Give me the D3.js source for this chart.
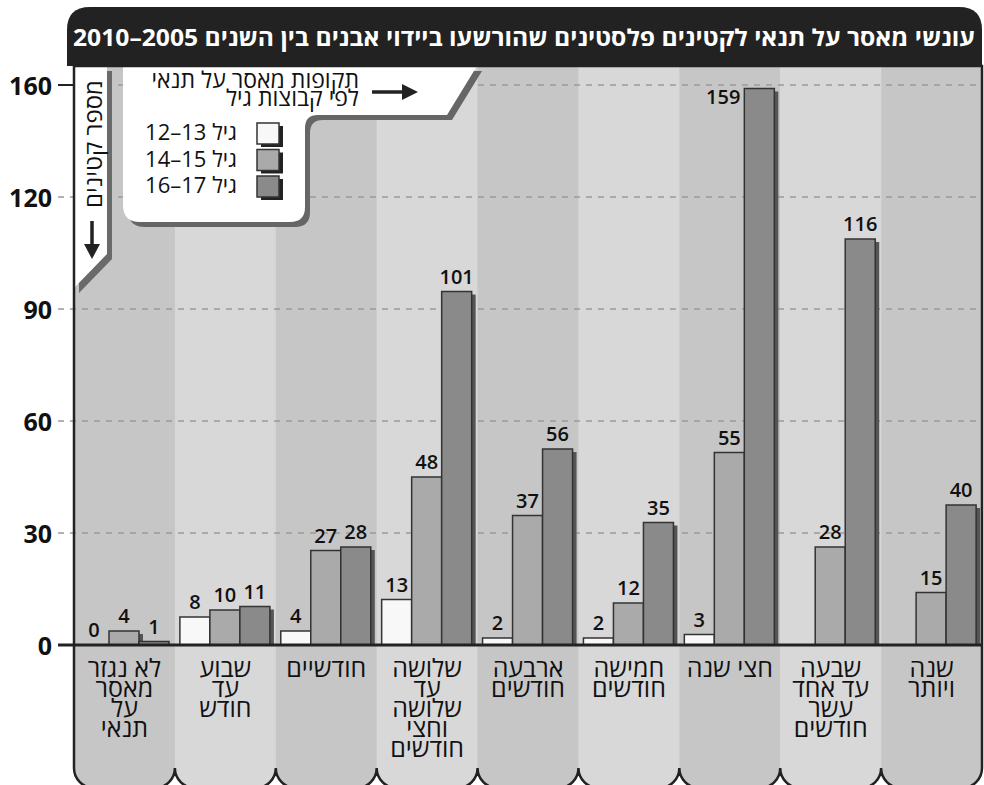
<!DOCTYPE html>
<html lang="he">
<head>
<meta charset="utf-8">
<script src="https://cdn.jsdelivr.net/npm/d3@7"></script>
<style>
    body { margin: 0; background: #fff; }
    svg { display: block; font-family: "Open Sans", "Noto Sans", "DejaVu Sans", sans-serif; }
</style>
</head>
<body>
<svg id="chart" width="984" height="785"></svg>
<script>
const title = "עונשי מאסר על תנאי לקטינים פלסטינים שהורשעו ביידוי אבנים בין השנים 2005–2010";
const yAxisTitle = "מספר קטינים";
const legendTitle = ["תקופות מאסר על תנאי", "לפי קבוצות גיל"];

const categories = [
    ["לא נגזר", "מאסר", "על", "תנאי"],
    ["שבוע", "עד", "חודש"],
    ["חודשיים"],
    ["שלושה", "עד", "שלושה", "וחצי", "חודשים"],
    ["ארבעה", "חודשים"],
    ["חמישה", "חודשים"],
    ["חצי שנה"],
    ["שבעה", "עד אחד", "עשר", "חודשים"],
    ["שנה", "ויותר"]
];

const ageGroups = ["גיל \u200E12–13", "גיל \u200E14–15", "גיל \u200E16–17"];
const age12_13 = [0, 8, 4, 13, 2, 2, 3, null, null];
const age14_15 = [4, 10, 27, 48, 37, 12, 55, 28, 15];
const age16_17 = [1, 11, 28, 101, 56, 35, 159, 116, 40];

// gridlines sit at even fifths of 160, the source labels them 30/60/90/120
const tickValues = [0, 32, 64, 96, 128, 160];
const tickLabels = ["0", "30", "60", "90", "120", "160"];

const seriesColors = ["#f8f8f8", "#aaaaaa", "#8a8a8a"];

const svg = d3.select("#chart");
const plotLeft = 74, plotRight = 982, plotTop = 66, zeroY = 645;

const y = d3.scaleLinear().domain([0, 160]).range([zeroY, 85]);
const x = d3.scaleBand().domain(d3.range(categories.length)).range([plotLeft, plotRight]);
const xInner = d3.scaleBand().domain([0, 1, 2]).range([5, 95]);

const series = [age12_13, age14_15, age16_17];

// body outline with rounded bottoms per column
const bounds = d3.range(1, categories.length).map(i => x(i));
let bodyPath = `M${plotLeft},${plotTop} V768 A20,20 0 0 0 ${plotLeft + 20},788`;
bounds.forEach(bx => {
    bodyPath += ` H${bx - 20} A20,20 0 0 0 ${bx},768 A20,20 0 0 0 ${bx + 20},788`;
});
bodyPath += ` H${plotRight - 20} A20,20 0 0 0 ${plotRight},768 V${plotTop} Z`;

svg.append("clipPath").attr("id", "bodyClip")
    .append("path").attr("d", bodyPath);

const body = svg.append("g").attr("clip-path", "url(#bodyClip)");

body.selectAll("rect.col")
    .data(categories)
    .enter().append("rect")
    .attr("class", "col")
    .attr("x", (d, i) => x(i))
    .attr("y", plotTop)
    .attr("width", x.bandwidth() + 0.5)
    .attr("height", 800 - plotTop)
    .attr("fill", (d, i) => i % 2 ? "#d8d8d8" : "#c6c6c6");

// dashed gridlines
svg.append("g")
    .selectAll("line")
    .data(tickValues.filter(v => v > 0))
    .enter().append("line")
    .attr("x1", 58).attr("x2", plotRight)
    .attr("y1", d => y(d)).attr("y2", d => y(d))
    .attr("stroke", "#9a9a9a")
    .attr("stroke-width", 1.5)
    .attr("stroke-dasharray", "6,6");

// y-axis title tab
const tab = svg.append("g");
const tabPts = [[plotLeft, plotTop], [107, plotTop], [107, 254], [plotLeft, 288]];
tab.append("polygon")
    .attr("points", tabPts.map(p => [p[0] + 5, p[1] + 5]).join(" "))
    .attr("fill", "#6a6a6a");
tab.append("polygon")
    .attr("points", tabPts.join(" "))
    .attr("fill", "#fff");
tab.append("text")
    .attr("transform", "translate(92,80) rotate(-90)")
    .attr("direction", "rtl")
    .attr("text-anchor", "start")
    .attr("dominant-baseline", "central")
    .attr("font-size", 24)
    .attr("fill", "#111")
    .text(yAxisTitle);
tab.append("line")
    .attr("x1", 92).attr("x2", 92)
    .attr("y1", 221).attr("y2", 246)
    .attr("stroke", "#222").attr("stroke-width", 3.5);
tab.append("polygon")
    .attr("points", "84,244 100,244 92,259")
    .attr("fill", "#222");

// legend panel
const legend = svg.append("g");
const legendPath = "M123,66 H477 L447,115 H318 Q305,115 305,128 V207 Q305,222 290,222 H140 Q123,222 123,205 Z";
legend.append("path").attr("d", legendPath).attr("fill", "#666")
    .attr("transform", "translate(5,5)");
legend.append("path").attr("d", legendPath).attr("fill", "#fff");

legend.selectAll("text.ltitle")
    .data(legendTitle)
    .enter().append("text")
    .attr("class", "ltitle")
    .attr("x", 359)
    .attr("y", (d, i) => 88 + i * 18)
    .attr("direction", "rtl")
    .attr("text-anchor", "start")
    .attr("font-size", 23)
    .attr("fill", "#111")
    .text(d => d);
legend.append("line")
    .attr("x1", 372).attr("x2", 404)
    .attr("y1", 92).attr("y2", 92)
    .attr("stroke", "#222").attr("stroke-width", 3.5);
legend.append("polygon")
    .attr("points", "402,84 402,100 418,92")
    .attr("fill", "#222");

const item = legend.selectAll("g.item")
    .data(ageGroups)
    .enter().append("g")
    .attr("class", "item")
    .attr("transform", (d, i) => `translate(0,${133 + i * 26.5})`);
item.append("rect")
    .attr("x", 261).attr("y", -7)
    .attr("width", 22).attr("height", 21)
    .attr("fill", "#222");
item.append("rect")
    .attr("x", 257).attr("y", -10)
    .attr("width", 22).attr("height", 21)
    .attr("fill", (d, i) => seriesColors[i])
    .attr("stroke", "#333").attr("stroke-width", 1.5);
item.append("text")
    .attr("x", 237).attr("y", 7)
    .attr("direction", "rtl")
    .attr("text-anchor", "start")
    .attr("font-size", 22)
    .attr("fill", "#111")
    .text(d => d);

// bars
const bars = svg.append("g");
series.forEach((vals, s) => {
    const g = bars.append("g");
    vals.forEach((v, i) => {
        const val = v || 0;
        const bx = x(i) + xInner(s);
        const h = zeroY - y(val);
        if (h > 0) {
            g.append("rect")
                .attr("x", bx + 4).attr("y", y(val) + 3)
                .attr("width", xInner.bandwidth()).attr("height", Math.max(0, h - 3))
                .attr("fill", "#555");
        }
        g.append("rect")
            .attr("x", bx).attr("y", y(val))
            .attr("width", xInner.bandwidth()).attr("height", h)
            .attr("fill", seriesColors[s])
            .attr("stroke", "#333").attr("stroke-width", 1.5);
    });
});

// value labels
const labelData = [];
series.forEach((vals, s) => vals.forEach((v, i) => {
    if (v !== null) labelData.push({ s, i, v });
}));
svg.append("g")
    .selectAll("text")
    .data(labelData)
    .enter().append("text")
    .attr("x", d => {
        const cx = x(d.i) + xInner(d.s);
        return y(d.v) < 110 ? cx - 4 : cx + xInner.bandwidth() / 2;
    })
    .attr("y", d => y(d.v) < 110 ? y(d.v) + 15 : y(d.v) - 8)
    .attr("text-anchor", d => y(d.v) < 110 ? "end" : "middle")
    .attr("font-size", 20)
    .attr("font-weight", 600)
    .attr("fill", "#111")
    .text(d => d.v);

// axis
const axis = svg.append("g");
axis.selectAll("text")
    .data(tickValues)
    .enter().append("text")
    .attr("x", 52)
    .attr("y", d => y(d))
    .attr("text-anchor", "end")
    .attr("dominant-baseline", "central")
    .attr("font-size", 25)
    .attr("font-weight", 700)
    .attr("fill", "#111")
    .text((d, i) => tickLabels[i]);
axis.append("line")
    .attr("x1", 58).attr("x2", plotLeft)
    .attr("y1", y(160)).attr("y2", y(160))
    .attr("stroke", "#222").attr("stroke-width", 2);
axis.append("line")
    .attr("x1", 58).attr("x2", plotRight)
    .attr("y1", zeroY).attr("y2", zeroY)
    .attr("stroke", "#222").attr("stroke-width", 3);

// category labels
const catG = svg.append("g")
    .selectAll("text")
    .data(categories)
    .enter().append("text")
    .attr("text-anchor", "middle")
    .attr("direction", "rtl")
    .attr("font-size", 25)
    .attr("fill", "#111");
catG.selectAll("tspan")
    .data((d, i) => d.map(line => ({ line, i })))
    .enter().append("tspan")
    .attr("x", d => x(d.i) + x.bandwidth() / 2)
    .attr("y", (d, j) => 677 + j * 20)
    .text(d => d.line);

// outline
svg.append("path")
    .attr("d", bodyPath)
    .attr("fill", "none")
    .attr("stroke", "#222")
    .attr("stroke-width", 2.5);

// header
svg.append("path")
    .attr("d", `M67,${plotTop} V30 Q67,7 90,7 H959 Q982,7 982,30 V${plotTop} Z`)
    .attr("fill", "#222");
svg.append("text")
    .attr("x", 975)
    .attr("y", 46)
    .attr("direction", "rtl")
    .attr("text-anchor", "start")
    .attr("font-size", 23)
    .attr("font-weight", 700)
    .attr("fill", "#fff")
    .attr("textLength", 902)
    .attr("lengthAdjust", "spacingAndGlyphs")
    .text(title);
</script>
</body>
</html>
